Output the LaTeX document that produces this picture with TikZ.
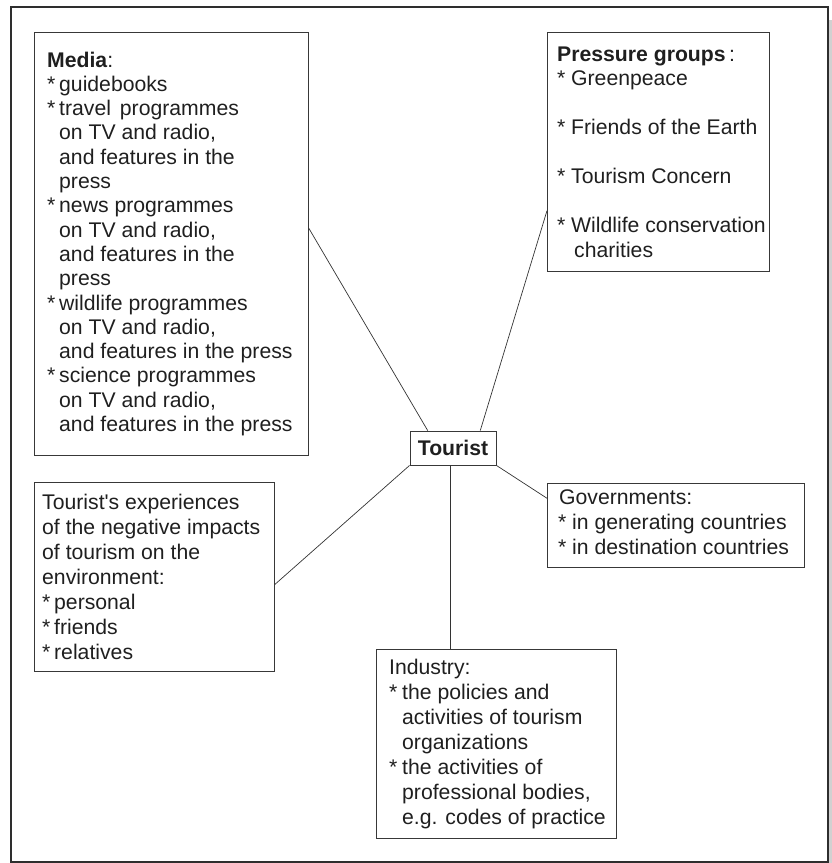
\documentclass[tikz,border=0pt]{standalone}
\usepackage{fontspec}
\setmainfont{Liberation Sans}[Ligatures=TeXOff]
\usetikzlibrary{calc}

\newlength\starw
% one line that starts with an asterisk, and one continuation line
\newcommand\starline[1]{\hbox{\makebox[\starw][l]{*}#1}}
\newcommand\contline[1]{\hbox{\hspace*{\starw}#1}}
\newcommand\plainline[1]{\hbox{#1}}

\begin{document}
\begin{tikzpicture}[x=1pt,y=-1pt,
  every node/.style={font=\fontsize{21.2}{24.5}\selectfont, text=black!88},
  panel/.style={draw=black!78, line width=0.8pt, inner sep=0pt, anchor=north west},
  txt/.style={inner sep=0pt, anchor=base west},
  link/.style={draw=black!80, line width=0.7pt}]

\useasboundingbox (0,0) rectangle (832,863);

% page frame and its shadow
\fill[black!18] (829,20) rectangle (832,863);
\draw[black!82, line width=1.2pt] (11,7) rectangle (828,862);

% boxes
\node[panel, minimum width=274pt, minimum height=423pt] (media) at (34,32) {};
\node[panel, minimum width=222pt, minimum height=239pt] (press) at (547,32) {};
\node[panel, minimum width=86pt, minimum height=34pt, anchor=center, font=\fontsize{21.2}{24.5}\selectfont\bfseries] (tourist) at (453,448) {Tourist};
\node[panel, minimum width=240pt, minimum height=189pt] (exper) at (34,482) {};
\node[panel, minimum width=257pt, minimum height=84pt] (gov) at (547,483) {};
\node[panel, minimum width=240pt, minimum height=189pt] (ind) at (376,649) {};

% texts
\node[txt] (mediatext) at (47,67) {\setlength\starw{12pt}\vtop{\baselineskip=24.3pt
  \plainline{\textbf{Media}:}
  \starline{guidebooks}
  \starline{travel\hspace{3pt} programmes}
  \contline{on TV and radio,}
  \contline{and features in the}
  \contline{press}
  \starline{news programmes}
  \contline{on TV and radio,}
  \contline{and features in the}
  \contline{press}
  \starline{wildlife programmes}
  \contline{on TV and radio,}
  \contline{and features in the press}
  \starline{science programmes}
  \contline{on TV and radio,}
  \contline{and features in the press}}};

\node[txt] (presstext) at (557,61) {\setlength\starw{14pt}\vtop{\baselineskip=24.5pt
  \plainline{\textbf{Pressure groups}\,:}
  \starline{Greenpeace}
  \plainline{}
  \starline{Friends of the Earth}
  \plainline{}
  \starline{Tourism Concern}
  \plainline{}
  \starline{Wildlife conservation}
  \plainline{\hspace*{17pt}charities}}};

\node[txt] (govtext) at (558,504) {\setlength\starw{14pt}\vtop{\baselineskip=25pt
  \plainline{\hspace*{1pt}Governments:}
  \starline{in generating countries}
  \starline{in destination countries}}};

\node[txt] (indtext) at (389,674) {\setlength\starw{13pt}\vtop{\baselineskip=25pt
  \plainline{Industry:}
  \starline{the policies and}
  \contline{activities of tourism}
  \contline{organizations}
  \starline{the activities of}
  \contline{professional bodies,}
  \contline{e.g. codes of practice}}};

\node[txt] (expertext) at (42,509) {\setlength\starw{12pt}\vtop{\baselineskip=25.1pt
  \plainline{Tourist's experiences}
  \plainline{of the negative impacts}
  \plainline{of tourism on the}
  \plainline{environment:}
  \starline{personal}
  \starline{friends}
  \starline{relatives}}};

% connectors
\draw[link] ($(media.north east)!0.463!(media.south east)$) -- ($(tourist.north west)!0.209!(tourist.north east)$);
\draw[link] ($(press.north west)!0.745!(press.south west)$) -- ($(tourist.north west)!0.814!(tourist.north east)$);
\draw[link] (tourist.south east) -- ($(gov.north west)!0.18!(gov.south west)$);
\draw[link] (tourist.south west) -- ($(exper.north east)!0.54!(exper.south east)$);
\coordinate (tb) at ($(tourist.south west)!0.465!(tourist.south east)$);
\draw[link] (tb) -- (tb |- ind.north);

\end{tikzpicture}
\end{document}
